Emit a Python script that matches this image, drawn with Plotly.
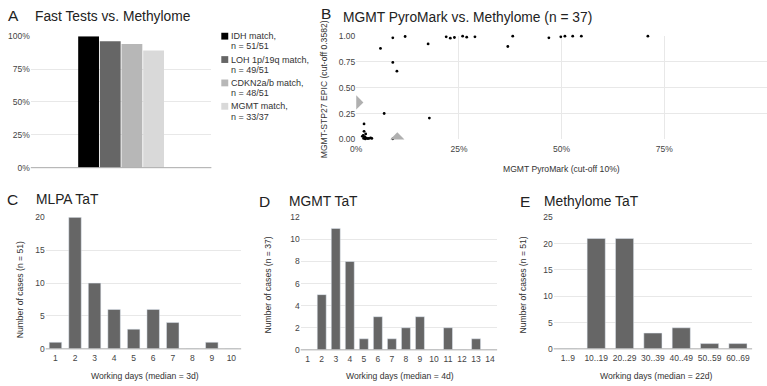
import plotly.graph_objects as go

W, H = 767, 386
FONT = "Liberation Sans, Arial, sans-serif"

# Panel A
a_series = ["IDH match,", "LOH 1p/19q match,", "CDKN2a/b match,", "MGMT match,"]
a_counts = ["n = 51/51", "n = 49/51", "n = 48/51", "n = 33/37"]
a_values = [51/51, 49/51, 48/51, 33/37]
a_colors = ["#000000", "#666666", "#b7b7b7", "#d9d9d9"]

# Panel B
b_pyro = [0.089, 0.119, 0.059, 0.089, 0.099, 0.175, 0.219, 0.229, 0.239, 0.259,
          0.269, 0.289, 0.369, 0.381, 0.469, 0.498, 0.508, 0.527, 0.548, 0.71,
          0.068, 0.178, 0.019, 0.019, 0.023, 0.089,
          0.015, 0.018, 0.020, 0.022, 0.025, 0.028, 0.031, 0.035, 0.038, 0.017, 0.021]
b_epic = [0.984, 0.997, 0.881, 0.746, 0.661, 0.925, 0.994, 0.981, 0.987, 1.0,
          0.99, 0.994, 0.90, 1.0, 0.984, 0.994, 1.0, 1.0, 1.0, 1.0,
          0.251, 0.207, 0.150, 0.078, 0.053, 0.006,
          0.03, 0.01, 0.02, 0.005, 0.012, 0.008, 0.01, 0.015, 0.01, 0.04, 0.025]
b_cut_x = 0.10
b_cut_y = 0.3582

# Panel C
c_days = ["1", "2", "3", "4", "5", "6", "7", "8", "9", "10"]
c_counts = [1, 20, 10, 6, 3, 6, 4, 0, 1, 0]
# Panel D
d_days = [str(i) for i in range(1, 15)]
d_counts = [0, 5, 11, 8, 1, 3, 1, 2, 3, 0, 2, 0, 1, 0]
# Panel E
e_bins = ["1..9", "10..19", "20..29", "30..39", "40..49", "50..59", "60..69"]
e_counts = [0, 21, 21, 3, 4, 1, 1]

def px(x):
    return x / W

def py(y):
    return 1 - y / H

fig = go.Figure()

for name, v, c in zip(a_series, a_values, a_colors):
    fig.add_trace(go.Bar(x=["A"], y=[v], name=name, marker_color=c,
                         marker_line_width=0, xaxis="x", yaxis="y", showlegend=False))

fig.add_trace(go.Scatter(x=b_pyro, y=b_epic, mode="markers",
                         marker=dict(color="#000000", size=2.8), xaxis="x2", yaxis="y2",
                         showlegend=False, cliponaxis=False))
fig.add_trace(go.Scatter(x=[0, b_cut_x], y=[b_cut_y, 0], mode="markers",
                         marker=dict(color="#b0b0b0", size=11, symbol="diamond"),
                         xaxis="x2", yaxis="y2", showlegend=False, cliponaxis=True))

bar_col = "#666666"
fig.add_trace(go.Bar(x=c_days, y=c_counts, marker_color=bar_col, width=0.64, xaxis="x3", yaxis="y3", showlegend=False))
fig.add_trace(go.Bar(x=d_days, y=d_counts, marker_color=bar_col, width=0.64, xaxis="x4", yaxis="y4", showlegend=False))
fig.add_trace(go.Bar(x=e_bins, y=e_counts, marker_color=bar_col, width=0.64, xaxis="x5", yaxis="y5", showlegend=False))

tickf = dict(family=FONT, size=8.5, color="#444444")
grid = "#e8e8e8"
base = dict(tickfont=tickf, gridcolor=grid, showline=False, zeroline=False, ticks="")
xbase = dict(tickfont=tickf, showline=False, zeroline=False, ticks="", ticklabelstandoff=3)

fig.update_layout(
    width=W, height=H, margin=dict(l=0, r=0, t=0, b=0),
    plot_bgcolor="white", paper_bgcolor="white",
    font=dict(family=FONT, color="#222"),
    barmode="group", bargap=0.52, bargroupgap=0.04,
    showlegend=False,
    xaxis=dict(domain=[px(25), px(207)], showticklabels=False, showgrid=False, anchor="y",
               fixedrange=True),
    yaxis=dict(domain=[py(167), py(32)], range=[0, 1], tickvals=[0, 0.25, 0.5, 0.75, 1],
               tickformat=".0%", anchor="x", **base),
    xaxis2=dict(domain=[px(353), px(767)], range=[0, 1.0], tickvals=[0, 0.25, 0.5, 0.75],
                tickformat=".0%", anchor="y2", gridcolor=grid, showgrid=True, **xbase),
    yaxis2=dict(domain=[py(138), py(32)], range=[0, 1], tickvals=[0, 0.25, 0.5, 0.75, 1],
                tickformat=".2f", anchor="x2", **base),
    xaxis3=dict(domain=[px(40), px(237)], anchor="y3", showgrid=False, **xbase),
    yaxis3=dict(domain=[py(353), py(218)], range=[0, 20], tickvals=[0, 5, 10, 15, 20], anchor="x3", **base),
    xaxis4=dict(domain=[px(297), px(495)], anchor="y4", showgrid=False, **xbase),
    yaxis4=dict(domain=[py(354), py(218)], range=[0, 12], tickvals=[0, 2, 4, 6, 8, 10, 12], anchor="x4", **base),
    xaxis5=dict(domain=[px(552), px(752)], anchor="y5", showgrid=False, **xbase),
    yaxis5=dict(domain=[py(353), py(218)], range=[0, 25], tickvals=[0, 5, 10, 15, 20, 25], anchor="x5", **base),
)

# baselines
for x0, x1, y in [(25, 207, 167), (40, 237, 353), (297, 495, 354), (552, 752, 353)]:
    fig.add_shape(type="line", xref="paper", yref="paper", x0=px(x0), x1=px(x1), y0=py(y), y1=py(y),
                  line=dict(color="#aaaaaa", width=1))

def ann(text, x, y, size, xanchor="left", angle=0, color="#222"):
    fig.add_annotation(text=text, x=px(x), y=py(y), xref="paper", yref="paper",
                       xanchor=xanchor, yanchor="middle", showarrow=False, textangle=angle,
                       font=dict(family=FONT, size=size, color=color), borderpad=0)

# manual legend for panel A
for i, (nm, cnt, c) in enumerate(zip(a_series, a_counts, a_colors)):
    y0 = 32 + 24 * i
    fig.add_shape(type="rect", xref="paper", yref="paper", x0=px(217), x1=px(224),
                  y0=py(y0 + 3.5), y1=py(y0 - 3.5), fillcolor=c, line_width=0)
    ann(nm, 226, y0, 9, color="#333")
    ann(cnt, 226, y0 + 10.5, 9, color="#333")

# panel letters and titles
TS = 13.8
ann("A", 1, 11, 15.5)
ann("Fast Tests vs. Methylome", 28, 12, TS)
ann("B", 316, 9, 15.5)
ann("MGMT PyroMark vs. Methylome (n = 37)", 339, 13, TS)
ann("C", 0, 200, 15.5)
ann("MLPA TaT", 29, 200, TS)
ann("D", 254, 202, 15.5)
ann("MGMT TaT", 284, 202, TS)
ann("E", 517, 202, 15.5)
ann("Methylome TaT", 541, 202, TS)

# axis titles
ann("MGMT-STP27 EPIC (cut-off 0.3582)", 320, 86, 8.6, xanchor="center", angle=-90, color="#333")
ann("MGMT PyroMark (cut-off 10%)", 560, 168, 8.6, xanchor="center", color="#333")
ann("Number of cases (n = 51)", 15, 292, 8.6, xanchor="center", angle=-90, color="#333")
ann("Working days (median = 3d)", 140, 381, 8.6, xanchor="center", color="#333")
ann("Number of cases (n = 37)", 264, 287, 8.6, xanchor="center", angle=-90, color="#333")
ann("Working days (median = 4d)", 397, 381, 8.6, xanchor="center", color="#333")
ann("Number of cases (n = 51)", 521, 287, 8.6, xanchor="center", angle=-90, color="#333")
ann("Working days (median = 22d)", 655, 381, 8.6, xanchor="center", color="#333")

fig.write_html("out.html", config={"displayModeBar": False},
               post_script="document.body.style.margin='0';")
